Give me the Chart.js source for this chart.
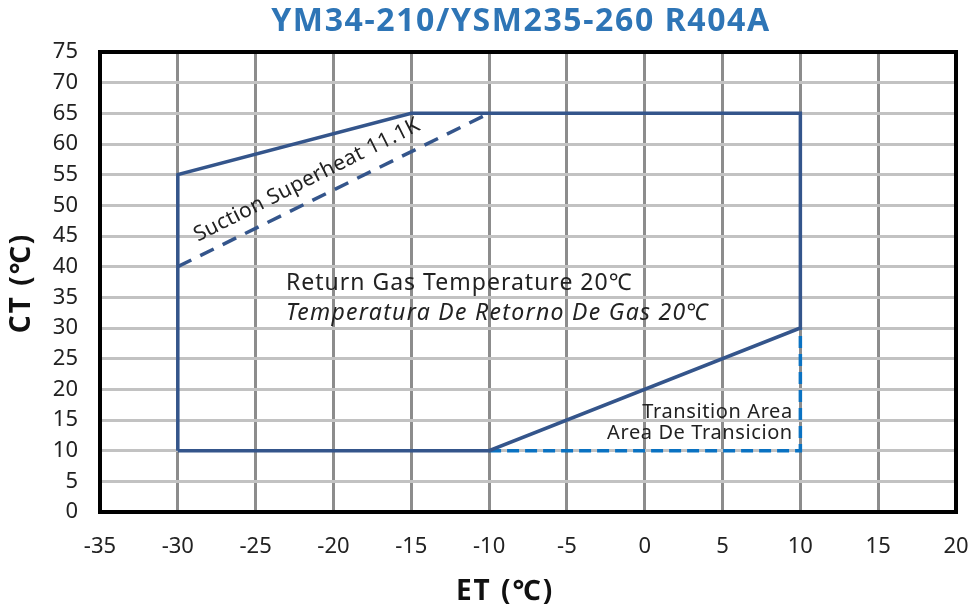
<!DOCTYPE html>
<html>
<head>
<meta charset="utf-8">
<script src="https://cdn.jsdelivr.net/npm/chart.js@4.4.0/dist/chart.umd.min.js"></script>
<style>
  html, body { margin: 0; padding: 0; background: #fff; }
  #wrap { width: 970px; height: 611px; position: relative; }
</style>
</head>
<body>
<div id="wrap"><canvas id="envelope"></canvas></div>
<script>
// operating envelope (solid)
var envET = [-30, -30, -15, 10, 10, -10, -30];
var envCT = [10, 55, 65, 65, 30, 10, 10];
// suction superheat 11.1K line (dashed)
var shET = [-30, -10];
var shCT = [40, 65];
// transition area (light blue dashed)
var trET = [-10, 10, 10];
var trCT = [10, 10, 30];

var xTicks = [-35, -30, -25, -20, -15, -10, -5, 0, 5, 10, 15, 20];
var yTicks = [0, 5, 10, 15, 20, 25, 30, 35, 40, 45, 50, 55, 60, 65, 70, 75];

var chartTitle = 'YM34-210/YSM235-260 R404A';
var xTitle = 'ET (\u2103)';
var yTitle = 'CT (\u2103)';

function pts(xs, ys) {
  return xs.map(function (x, i) { return { x: x, y: ys[i] }; });
}

var FONT = '"Noto Sans", "Open Sans", sans-serif';
var dark = '#34558b';
var light = '#0a72c2';

// text + frame drawn on top
var extras = {
  id: 'extras',
  afterDatasetsDraw: function (chart) {
    var ctx = chart.ctx, a = chart.chartArea;
    var xs = chart.scales.x, ys = chart.scales.y;
    ctx.save();
    ctx.strokeStyle = '#000';
    ctx.lineWidth = 4;
    ctx.strokeRect(a.left, a.top, a.right - a.left, a.bottom - a.top);

    ctx.fillStyle = '#222';
    ctx.textBaseline = 'middle';
    ctx.letterSpacing = '1px';
    ctx.font = '23px ' + FONT;
    ctx.textAlign = 'left';
    ctx.fillText('Return Gas Temperature 20\u2103', xs.getPixelForValue(-23.05), ys.getPixelForValue(37.3));
    ctx.letterSpacing = '1.3px';
    ctx.font = 'italic 23px ' + FONT;
    ctx.fillText('Temperatura De Retorno De Gas 20\u2103', xs.getPixelForValue(-23.05), ys.getPixelForValue(32.4));

    ctx.letterSpacing = '0.6px';
    ctx.font = '20px ' + FONT;
    ctx.textAlign = 'right';
    ctx.fillText('Transition Area', xs.getPixelForValue(9.45) + 1, ys.getPixelForValue(16.3));
    ctx.fillText('Area De Transicion', xs.getPixelForValue(9.45) + 1, ys.getPixelForValue(12.9));

    ctx.save();
    ctx.translate(xs.getPixelForValue(-21.7), ys.getPixelForValue(54.1));
    ctx.rotate(-26.7 * Math.PI / 180);
    ctx.textAlign = 'center';
    ctx.letterSpacing = '0.4px';
    ctx.font = '21px ' + FONT;
    ctx.fillText('Suction Superheat 11.1K', 0, 0);
    ctx.restore();

    // titles
    ctx.textAlign = 'center';
    ctx.fillStyle = '#2e75b6';
    ctx.letterSpacing = '1.6px';
    ctx.font = 'bold 32px ' + FONT;
    ctx.fillText(chartTitle, 521, 22);
    ctx.fillStyle = '#111';
    ctx.letterSpacing = '2px';
    ctx.font = 'bold 28px ' + FONT;
    ctx.fillText(xTitle, 505, 592);
    ctx.save();
    ctx.translate(22, 283);
    ctx.rotate(-Math.PI / 2);
    ctx.fillText(yTitle, 0, 0);
    ctx.restore();
    ctx.restore();
  }
};

var ctx = document.getElementById('envelope').getContext('2d');
var myChart = new Chart(ctx, {
  type: 'scatter',
  data: {
    datasets: [
      { data: pts(envET, envCT), showLine: true, borderColor: dark, borderWidth: 3.5, pointRadius: 0, fill: false },
      { data: pts(shET, shCT), showLine: true, borderColor: dark, borderWidth: 3.5, borderDash: [15, 10], pointRadius: 0 },
      { data: pts(trET, trCT), showLine: true, borderColor: light, borderWidth: 3.5, borderDash: [12, 6], pointRadius: 0 }
    ]
  },
  options: {
    responsive: true,
    maintainAspectRatio: false,
    animation: false,
    layout: { padding: { top: 52, right: 14, left: 0, bottom: 0 } },
    plugins: { legend: { display: false }, tooltip: { enabled: false }, title: { display: false } },
    scales: {
      x: {
        type: 'linear', min: -35, max: 20,
        afterBuildTicks: function (s) { s.ticks = xTicks.map(function (v) { return { value: v }; }); },
        afterFit: function (s) { s.height = 99; s.paddingRight = 0; s.paddingLeft = 0; },
        grid: { color: '#8c8c8c', lineWidth: 3, drawTicks: false },
        border: { display: false },
        ticks: { padding: 22, color: '#222', font: { family: FONT, size: 22 } }
      },
      y: {
        type: 'linear', min: 0, max: 75,
        afterBuildTicks: function (s) { s.ticks = yTicks.map(function (v) { return { value: v }; }); },
        afterFit: function (s) { s.width = 100; s.paddingTop = 0; s.paddingBottom = 0; },
        grid: { color: '#c2c2c2', lineWidth: 3, drawTicks: false },
        border: { display: false },
        ticks: { padding: 22, color: '#222', font: { family: FONT, size: 22 } }
      }
    }
  },
  plugins: [extras]
});
</script>
</body>
</html>
